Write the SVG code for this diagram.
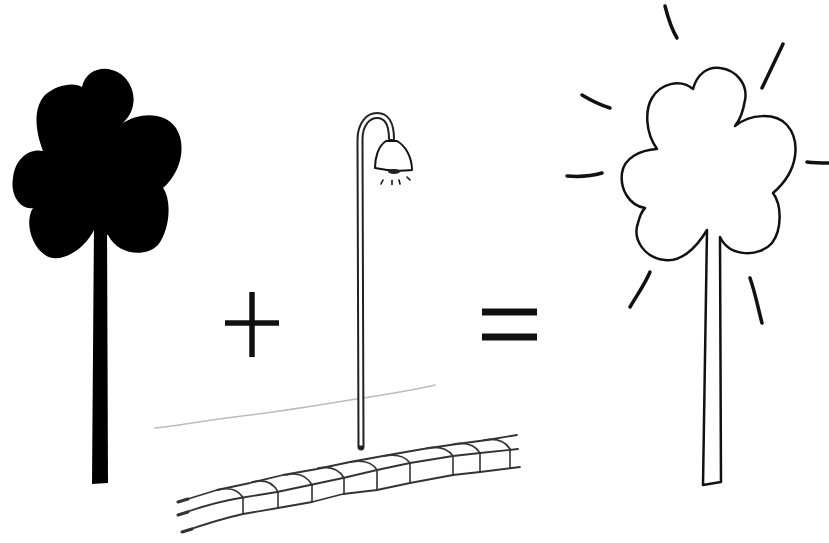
<svg xmlns="http://www.w3.org/2000/svg" width="829" height="543" viewBox="0 0 829 543">
  <style>
    .ink { fill: none; stroke: #111; stroke-linecap: round; stroke-linejoin: round; }
    .ray { fill: none; stroke: #111; stroke-width: 3.5; stroke-linecap: round; }
    .curb { fill: none; stroke: #333; stroke-width: 1.6; stroke-linecap: round; stroke-linejoin: round; }
    .sign { stroke: #111; stroke-linecap: butt; }
  </style>
  <rect width="829" height="543" fill="#fff"/>

  <!-- dark tree: solid silhouette -->
  <g id="tree-dark" fill="#000">
    <path d="M95,228 C85,250 60,265 45,255 C30,245 25,220 33,208
             C20,210 10,195 13,178 C15,158 30,148 43,151
             C35,130 33,108 45,95 C57,84 75,82 82,87
             C85,72 100,66 112,70 C128,74 136,92 133,105 C132,112 128,118 123,123
             C140,112 165,112 176,128 C186,143 183,170 163,188
             C172,200 170,230 158,245 C145,258 118,255 108,235 Z"/>
    <path d="M94,222 L107,222 L108,483 L92,484 Z"/>
  </g>

  <!-- plus sign -->
  <g id="plus" class="sign" stroke-width="5.5">
    <line x1="225" y1="323" x2="279" y2="323"/>
    <line x1="252" y1="292" x2="252" y2="357"/>
  </g>

  <!-- faint ground line behind the lamp -->
  <g id="ground">
    <path d="M155,428 C170,427 200,421 250,415 C290,410 320,405 350,400 C390,394 415,390 435,385" fill="none" stroke="#bcbcbc" stroke-width="1.6" stroke-linecap="round"/>
  </g>

  <!-- street lamp -->
  <g id="lamp">
    <path d="M361,447 L360,140 C360,123 369,115.5 377,115.5 C386,115.5 391.5,123 391.5,139" fill="none" stroke="#222" stroke-width="7" stroke-linecap="round"/>
    <path d="M361,445.5 L360,140 C360,123 369,115.5 377,115.5 C386,115.5 391.5,123 391.5,139" fill="none" stroke="#fff" stroke-width="3"/>
    <path d="M386,141 C378,146 375,158 375,168 Q393,172 412,170 C412,158 406,146 397,141 Z" fill="#fff" stroke="#111" stroke-width="2" stroke-linejoin="round"/>
    <ellipse cx="394" cy="171.5" rx="6" ry="2.6" fill="#222"/>
    <g class="ink" stroke-width="1.6">
      <line x1="381" y1="184" x2="383" y2="180"/>
      <line x1="392" y1="184.5" x2="392" y2="180.5"/>
      <line x1="400" y1="184" x2="399" y2="180"/>
      <line x1="410" y1="180" x2="407" y2="177"/>
    </g>
  </g>

  <!-- kerb of paving blocks -->
  <g id="curb" class="curb">
    <path d="M178,502 L217,490 L250,483 L283,475 L317,469 L350,462 L383,456 L423,449 L457,444 L487,440 L517,435" stroke-width="1.8"/>
    <path d="M178,515 C200,507 222,501 240,498 L277,492 L310,485 L343,478 L377,470 L410,463 L453,456 L480,453 L518,449" stroke-width="1.8"/>
    <path d="M182,532 C205,524 225,518 243,514 L278,508 L312,502 L343,494 L377,490 L410,483 L453,475 L480,472 L520,467" stroke-width="1.8"/>
    <!-- thickened lead-in ends -->
    <path d="M178,502 L188,499 M178,515 L188,512 M182,532 L192,529" stroke-width="3"/>
    <!-- block joints -->
    <path d="M243,498 L243,514 M278,492 L278,508 M312,485 L312,502 M344,478 L344,494
             M377,470 L377,490 M410,463 L410,483 M453,456 L453,475 M480,453 L480,472 M510,449 L510,468"/>
    <!-- block tops -->
    <path d="M217,490 C228,487 238,489 243,498
             M252,482 C264,479 273,482 278,492
             M286,475 C298,472 307,476 312,485
             M318,468 C330,466 339,469 344,478
             M351,462 C363,460 372,462 377,470
             M384,456 C396,454 405,456 410,463
             M427,448 C439,446 448,449 453,456
             M454,444 C466,442 475,445 480,453
             M484,440 C496,438 505,441 510,449"/>
  </g>

  <!-- equals sign -->
  <g id="equals" class="sign" stroke-width="7">
    <line x1="482" y1="312" x2="537" y2="312"/>
    <line x1="482" y1="337" x2="537" y2="337"/>
  </g>

  <!-- lit tree: outline with light rays -->
  <g id="tree-lit">
    <path d="M707,230 C695,250 680,262 665,260 C645,258 632,240 638,223 C640,215 643,210 645,208
             C628,205 620,188 622,173 C624,158 640,150 657,149
             C645,132 645,110 652,98 C660,84 680,78 693,89
             C697,74 708,66 720,68 C737,70 748,85 745,100 C743,112 740,120 735,126
             C750,114 775,112 787,125 C800,140 800,170 773,193
             C782,205 782,230 772,243 C760,257 730,258 720,237
             L721,482 L703,485 Z" fill="#fff" stroke="#111" stroke-width="2.5" stroke-linejoin="round"/>
    <path class="ray" d="M665,6 C668,18 671,28 677,38"/>
    <path class="ray" d="M783,44 L762,88"/>
    <path class="ray" d="M582,95 C592,101 600,105 610,108"/>
    <path class="ray" d="M567,176 C580,177 592,176 602,173"/>
    <path class="ray" d="M807,162 C815,163 822,163 829,163"/>
    <path class="ray" d="M650,272 C645,284 637,295 630,307"/>
    <path class="ray" d="M750,278 C755,292 758,308 762,323"/>
  </g>
</svg>
